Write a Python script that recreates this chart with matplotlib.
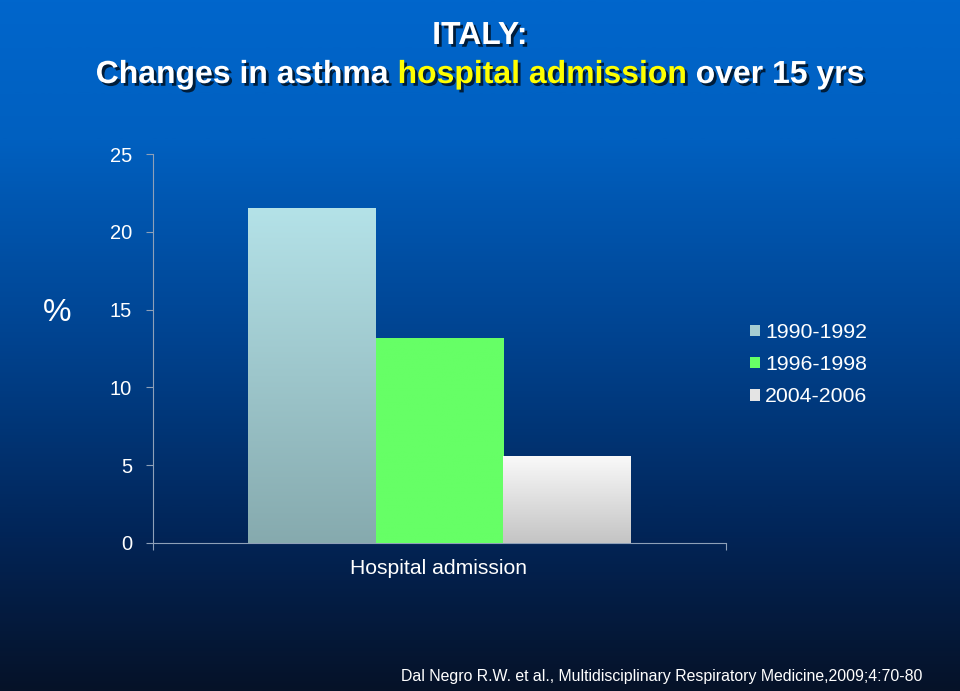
import numpy as np
import matplotlib
matplotlib.use("Agg")
import matplotlib.pyplot as plt
from matplotlib.colors import LinearSegmentedColormap
from matplotlib.patches import Patch
import matplotlib.patheffects as pe

# ---- data ----
category = ["Hospital admission"]
periods = ["1990-1992", "1996-1998", "2004-2006"]
values = [21.5, 13.2, 5.6]
yticks = [0, 5, 10, 15, 20, 25]
bar_top_colors = ["#b4e2e8", "#66ff66", "#fafafa"]
bar_bot_colors = ["#86aaae", "#66ff66", "#c4c4c4"]

W, H = 960, 691
fig = plt.figure(figsize=(W / 100, H / 100), dpi=100)

# background gradient
bg = fig.add_axes([0, 0, 1, 1], zorder=-10)
bg_cmap = LinearSegmentedColormap.from_list(
    "bg", [(0.0, (0/255, 102/255, 204/255)), (0.2, (0/255, 96/255, 192/255)),
           (0.5, (0/255, 66/255, 142/255)), (0.78, (2/255, 36/255, 86/255)),
           (1.0, (6/255, 18/255, 40/255))])
grad = np.linspace(0, 1, 512).reshape(-1, 1)
bg.imshow(grad, aspect="auto", cmap=bg_cmap, extent=[0, 1, 0, 1], origin="upper")
bg.set_axis_off()

ax = fig.add_axes([153/W, 1 - 543/H, (726-153)/W, (543-154)/H])
ax.patch.set_alpha(0)

width = 0.223
offsets = [-width, 0, width]
for i, (p, v) in enumerate(zip(periods, values)):
    x = offsets[i]
    bar = ax.bar(x, v, width=width, color=bar_bot_colors[i], edgecolor="none", zorder=2)[0]
    cm = LinearSegmentedColormap.from_list("b%d" % i, [bar_bot_colors[i], bar_top_colors[i]])
    im = ax.imshow(np.linspace(0, 1, 256).reshape(-1, 1), aspect="auto", cmap=cm,
                   extent=[x - width/2, x + width/2, 0, v], origin="lower", zorder=3)
    im.set_clip_path(bar)

ax.set_xlim(-0.5, 0.5)
ax.set_ylim(0, 25)
ax.set_yticks(yticks)
ax.set_yticklabels([str(t) for t in yticks])
ax.set_xticks([-0.5, 0.5])
ax.set_xticklabels(["", ""])
ax.tick_params(axis="y", colors="#8ea0b8", labelcolor="white", labelsize=14.5, length=5,
               direction="out", pad=10)
ax.tick_params(axis="x", colors="#8ea0b8", length=5, direction="out")
for lab in ax.get_yticklabels():
    lab.set_fontfamily("Liberation Sans")
for s in ["top", "right"]:
    ax.spines[s].set_visible(False)
ax.spines["left"].set_color("#8ea0b8")
ax.spines["bottom"].set_color("#8ea0b8")
ax.set_aspect("auto")

fig.text(438/W, 1 - 568/H, category[0], ha="center", va="center", color="white",
         fontsize=15.2, family="Liberation Sans")

# legend
handles = [Patch(facecolor=c, edgecolor="none") for c in ["#a6cdd2", "#66ff66", "#e4e4e4"]]
leg = fig.legend(handles, periods, loc="upper left", bbox_to_anchor=(731/W, 1 - 304/H),
                 frameon=False, handlelength=0.45, handleheight=0.45, handletextpad=0.25,
                 labelspacing=0.62, prop={"family": "Liberation Sans", "size": 15.3})
for t in leg.get_texts():
    t.set_color("white")

# % label
fig.text(57/W, 1 - 313/H, "%", color="white", fontsize=23, ha="center", va="center",
         family="Liberation Sans")

# title
shadow = [pe.withSimplePatchShadow(offset=(2, -2), shadow_rgbFace="black", alpha=0.7)]
tfont = dict(family=["Liberation Sans"], weight="bold", fontsize=23)
fig.text(0.5, 1 - 36/H, "ITALY:", color="white", ha="center", va="center",
         path_effects=shadow, **tfont)

parts = [("Changes in asthma ", "white"), ("hospital admission", "#ffff00"), (" over 15 yrs", "white")]
fig.canvas.draw()
renderer = fig.canvas.get_renderer()
texts = []
for s, c in parts:
    t = fig.text(0, 1 - 75/H, s, color=c, ha="left", va="center", path_effects=shadow, **tfont)
    texts.append(t)
full = fig.text(0, 0, "".join(p[0] for p in parts), **tfont)
total = full.get_window_extent(renderer).width
full.remove()
x0 = (W - total) / 2
cur = ""
for t, (s, c) in zip(texts, parts):
    tmp = fig.text(0, 0, cur + "|", **tfont)
    wprefix = tmp.get_window_extent(renderer).width
    tmp2 = fig.text(0, 0, "|", **tfont)
    wbar = tmp2.get_window_extent(renderer).width
    tmp.remove(); tmp2.remove()
    t.set_x((x0 + (wprefix - wbar if cur else 0)) / W)
    cur += s

fig.text(922/W, 1 - 677/H,
         "Dal Negro R.W. et al., Multidisciplinary Respiratory Medicine,2009;4:70-80",
         color="white", ha="right", va="center", fontsize=11.4, family="Liberation Sans")

fig.savefig("out.png", dpi=100)
